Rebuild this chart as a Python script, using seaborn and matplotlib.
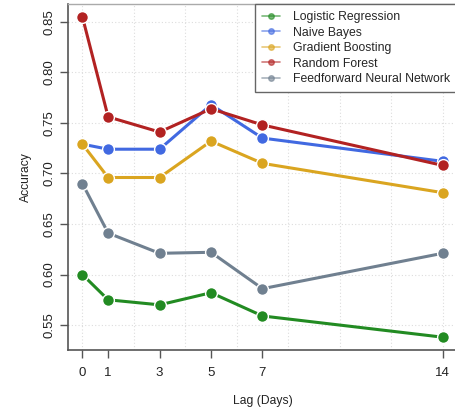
import matplotlib
matplotlib.use("Agg")
import matplotlib.pyplot as plt
from matplotlib.lines import Line2D
import seaborn as sns
import pandas as pd

# Lag values (days) and accuracy per model
lags = [0, 1, 3, 5, 7, 14]
logistic_regression = [0.600, 0.575, 0.570, 0.582, 0.559, 0.538]
naive_bayes = [0.729, 0.724, 0.724, 0.768, 0.735, 0.712]
gradient_boosting = [0.729, 0.696, 0.696, 0.732, 0.710, 0.681]
random_forest = [0.855, 0.756, 0.741, 0.764, 0.748, 0.708]
feedforward_nn = [0.690, 0.641, 0.621, 0.622, 0.586, 0.621]

model_names = ["Logistic Regression", "Naive Bayes", "Gradient Boosting",
               "Random Forest", "Feedforward Neural Network"]
model_values = [logistic_regression, naive_bayes, gradient_boosting,
                random_forest, feedforward_nn]
model_colors = ["#228B22", "#4169E1", "#DAA520", "#B22222", "#708090"]
y_ticks = [0.55, 0.60, 0.65, 0.70, 0.75, 0.80, 0.85]
y_tick_labels = ["0.55", "0.60", "0.65", "0.70", "0.75", "0.80", "0.85"]

df = pd.DataFrame({
    "Lag": lags * len(model_names),
    "Accuracy": [v for vals in model_values for v in vals],
    "Model": [m for m in model_names for _ in lags],
})

sns.set_style("white")
plt.rcParams["font.family"] = ["Liberation Sans", "DejaVu Sans"]

W, H = 456, 412
fig = plt.figure(figsize=(W / 100, H / 100), dpi=100)
ax = fig.add_axes([68 / W, 1 - 350 / H, (457 - 68) / W, (350 - 4) / H])

# vertical grid every 2 days, horizontal at the y ticks
for gx in range(0, 15, 2):
    ax.axvline(gx, color="#dddddd", lw=0.8, ls=(0, (1, 2)), zorder=0)
for gy in y_ticks:
    ax.axhline(gy, color="#dddddd", lw=0.8, ls=(0, (1, 2)), zorder=0)

sns.lineplot(data=df, x="Lag", y="Accuracy", hue="Model", hue_order=model_names,
             palette=model_colors, marker="o", markersize=8.5,
             markeredgecolor="white", markeredgewidth=1.0, linewidth=2.2,
             legend=False, ax=ax, zorder=3)

lo_x, hi_x = min(lags), max(lags)
all_vals = df["Accuracy"]
pad_x = (hi_x - lo_x) * 0.04
pad_y = (all_vals.max() - all_vals.min()) * 0.04
ax.set_xlim(lo_x - pad_x, hi_x + pad_x)
ax.set_ylim(all_vals.min() - pad_y, all_vals.max() + pad_y)

ax.set_xticks(lags)
ax.set_yticks(y_ticks)
ax.set_yticklabels(y_tick_labels, rotation=90, va="center")
ax.tick_params(axis="both", direction="out", length=6, width=1.0,
               color="#555555", labelsize=9.5, labelcolor="#222222")
ax.tick_params(axis="x", pad=6)
ax.tick_params(axis="y", pad=3)
ax.xaxis.set_ticks_position("bottom")
ax.yaxis.set_ticks_position("left")

for side in ["left", "bottom"]:
    ax.spines[side].set_color("#555555")
    ax.spines[side].set_linewidth(1.2)
ax.spines["top"].set_color("#aaaaaa")
ax.spines["top"].set_linewidth(1.0)
ax.spines["right"].set_visible(False)

ax.set_xlabel("Lag (Days)", fontsize=8.7, color="#222222", labelpad=12)
ax.set_ylabel("Accuracy", fontsize=8.7, color="#222222", labelpad=8)

handles = [Line2D([0], [0], color=c, lw=1.2, alpha=0.6, marker="o",
                  markersize=4, markerfacecolor=c, markeredgecolor=c)
           for c in model_colors]
leg = ax.legend(handles, model_names, loc="upper right",
                bbox_to_anchor=(1.0, 1.0), borderaxespad=0.0,
                fontsize=8.8, frameon=True, fancybox=False,
                handlelength=1.5, handletextpad=1.0, labelspacing=0.28,
                borderpad=0.6)
leg.get_frame().set_edgecolor("#666666")
leg.get_frame().set_linewidth(1.0)
leg.get_frame().set_alpha(1.0)

fig.savefig("out.png", dpi=100)
